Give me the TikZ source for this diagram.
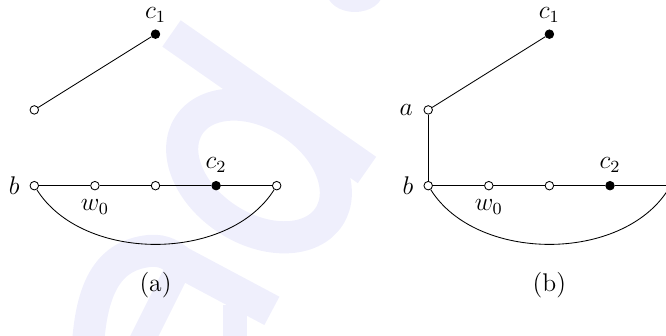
\documentclass[tikz,border=0pt]{standalone}
\usetikzlibrary{positioning}
\definecolor{wmark}{RGB}{239,239,252}

\begin{document}
\begin{tikzpicture}[
  font=\large,
  vtx/.style={circle,draw,fill=white,inner sep=0pt,minimum size=4pt},
  blk/.style={vtx,fill=black},
  wm/.style={wmark,line width=0.53cm},
  every label/.style={inner sep=2pt}
]
\useasboundingbox (-0.566,-2.48) rectangle (10.424,3.064);
\clip (-0.566,-2.48) rectangle (10.424,3.064);
% faint watermark behind the figure
\draw[wm] (2.264,2.512) -- (5.490,0.259);
\draw[wm,rotate around={-33:(3.708,0.243)}] (3.708,0.243) ellipse [x radius=1.38,y radius=0.95];
\begin{scope}[shift={(-0.566,3.064)},x=0.0165cm,y=-0.0165cm]
  \draw[wm] (88,345) .. controls (92,285) and (110,255) .. (150,251) .. controls (165,250) and (172,256) .. (180,262) -- (272,311);
  \draw[wm,line width=0.42cm] (185,255) -- (140,345);
  \draw[wm,line width=0.4cm] (235,305) -- (235,345);
  \fill[wmark] (355,-8) ellipse [x radius=28,y radius=20];
\end{scope}

% (a)
\node[vtx,label={[label distance=2.6pt]left:$b$}] (b) at (0,0) {};
\node[vtx,label={[label distance=2pt]below:$w_0$}] (w) at (1,0) {};
\node[vtx] (m) at (2,0) {};
\node[blk,label={[label distance=2pt]above:$c_2$}] (c2) at (3,0) {};
\node[vtx] (e) at (4,0) {};
\node[vtx] (u) at (0,1.25) {};
\node[blk,label={[label distance=1.2pt]above:$c_1$}] (c1) at (2,2.5) {};
\draw (u) -- (c1);
\draw (b) -- (w) -- (m) -- (c2) -- (e);
\draw (b) .. controls +(0.8,-1.27) and +(-0.8,-1.27) .. (e);
\node (capa) at (2,-1.64) {(a)};

% (b)
\node[vtx,label={[label distance=2.6pt]left:$b$}] (bb) at (6.5,0) {};
\node[vtx,label={[label distance=2pt]below:$w_0$}] (bw) at (7.5,0) {};
\node[vtx] (bm) at (8.5,0) {};
\node[blk,label={[label distance=2pt]above:$c_2$}] (bc2) at (9.5,0) {};
\node[vtx] (be) at (10.5,0) {};
\node[vtx,label={[label distance=2.8pt]left:$a$}] (ba) at (6.5,1.25) {};
\node[blk,label={[label distance=1.2pt]above:$c_1$}] (bc1) at (8.5,2.5) {};
\draw (ba) -- (bc1);
\draw (ba) -- (bb);
\draw (bb) -- (bw) -- (bm) -- (bc2) -- (be);
\draw (bb) .. controls +(0.8,-1.27) and +(-0.8,-1.27) .. (be);
\node (capb) at (8.5,-1.64) {(b)};
\end{tikzpicture}
\end{document}
